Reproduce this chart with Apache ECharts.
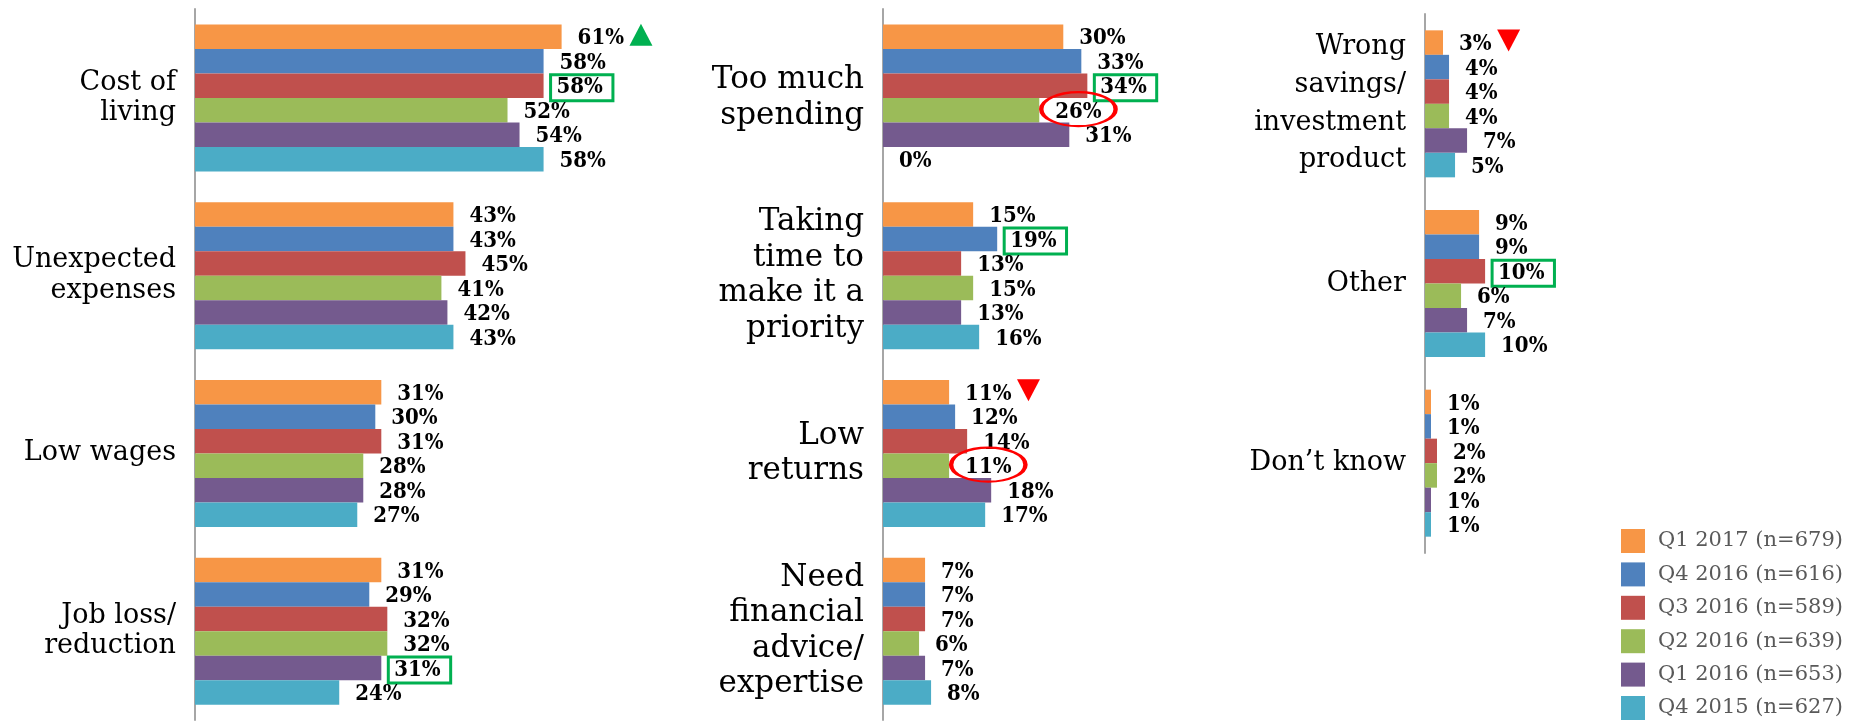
<!DOCTYPE html>
<html>
<head>
<meta charset="utf-8">
<script src="https://cdn.jsdelivr.net/npm/echarts@6/dist/echarts.min.js"></script>
<style>
  html, body { margin: 0; padding: 0; background: #ffffff; }
  #chart { width: 1863px; height: 724px; }
</style>
</head>
<body>
<div id="chart"></div>
<script>
// Survey waves (one bar series each)
const seriesNames = ['Q1 2017 (n=679)', 'Q4 2016 (n=616)', 'Q3 2016 (n=589)', 'Q2 2016 (n=639)', 'Q1 2016 (n=653)', 'Q4 2015 (n=627)'];
const seriesColors = ['#F79646', '#4F81BD', '#C0504D', '#9BBB59', '#745A8E', '#4BACC6'];

// Reasons, split over three columns
const leftCategories = ['Cost of\nliving', 'Unexpected\nexpenses', 'Low wages', 'Job loss/\nreduction'];
const middleCategories = ['Too much\nspending', 'Taking\ntime to\nmake it a\npriority', 'Low\nreturns', 'Need\nfinancial\nadvice/\nexpertise'];
const rightCategories = ['Wrong\nsavings/\ninvestment\nproduct', 'Other', 'Don’t know'];

// Percent of respondents, in the order left + middle + right categories
const q1_2017 = [61, 43, 31, 31, 30, 15, 11, 7, 3, 9, 1];
const q4_2016 = [58, 43, 30, 29, 33, 19, 12, 7, 4, 9, 1];
const q3_2016 = [58, 45, 31, 32, 34, 13, 14, 7, 4, 10, 2];
const q2_2016 = [52, 41, 28, 32, 26, 15, 11, 6, 4, 6, 2];
const q1_2016 = [54, 42, 28, 31, 31, 13, 18, 7, 7, 7, 1];
const q4_2015 = [58, 43, 27, 24, 0, 16, 17, 8, 5, 10, 1];
const seriesValues = [q1_2017, q4_2016, q3_2016, q2_2016, q1_2016, q4_2015];

// Call-outs: [series index, category index]
const boxedLabels = [[2, 0], [4, 3], [2, 4], [1, 5], [2, 9]];
const circledLabels = [[3, 4], [3, 6]];
const trendUp = [[0, 0]];
const trendDown = [[0, 6], [0, 8]];

const serifFont = 'DejaVu Serif';
const valueFont = '"DejaVu Serif Condensed", "DejaVu Serif"';
const valueFontSize = 22;
const labelGap = 16;

const measureCtx = document.createElement('canvas').getContext('2d');
function textWidth(str) {
  measureCtx.font = 'bold ' + valueFontSize + 'px ' + valueFont;
  return measureCtx.measureText(str).width;
}
function has(list, s, c) {
  return list.some(function (e) { return e[0] === s && e[1] === c; });
}

const xMax = 70;
const plotWidth = 420.7;
const panels = [
  { cats: leftCategories, start: 0, left: 195, top: 9, height: 711, fontSize: 27, lineHeight: 30.5 },
  { cats: middleCategories, start: 4, left: 883, top: 9, height: 711, fontSize: 31, lineHeight: 35.5 },
  { cats: rightCategories, start: 8, left: 1425, top: 14, height: 539, fontSize: 27, lineHeight: 37.7 }
];

const grids = [], xAxes = [], yAxes = [], series = [];

panels.forEach(function (p, pi) {
  grids.push({ left: p.left, top: p.top, width: plotWidth, height: p.height, containLabel: false });
  xAxes.push({ type: 'value', gridIndex: pi, min: 0, max: xMax, show: false });
  yAxes.push({
    type: 'category', gridIndex: pi, inverse: true, data: p.cats,
    axisLine: { show: true, lineStyle: { color: '#A6A6A6', width: 2 } },
    axisTick: { show: false },
    splitLine: { show: false },
    axisLabel: {
      color: '#000000', fontFamily: serifFont, fontSize: p.fontSize,
      lineHeight: p.lineHeight, margin: 19, align: 'right'
    }
  });

  seriesNames.forEach(function (name, si) {
    const vals = seriesValues[si].slice(p.start, p.start + p.cats.length);
    const data = vals.map(function (v, k) {
      const c = p.start + k;
      if (has(boxedLabels, si, c)) {
        return {
          value: v,
          label: {
            distance: labelGap - 9,
            borderColor: '#00B050', borderWidth: 3,
            padding: [3, 10, 1, 6]
          }
        };
      }
      return v;
    });

    const marks = [];
    vals.forEach(function (v, k) {
      const c = p.start + k;
      const w = textWidth(v + '%');
      if (has(circledLabels, si, c)) {
        marks.push({
          coord: [v, k], symbol: 'circle', symbolSize: [w + 28, 34],
          symbolOffset: [labelGap + w / 2, -1],
          itemStyle: { color: 'rgba(0,0,0,0)', borderColor: '#FF0000', borderWidth: 3 }
        });
      }
      if (has(trendUp, si, c) || has(trendDown, si, c)) {
        const up = has(trendUp, si, c);
        marks.push({
          coord: [v, k], symbol: 'triangle', symbolSize: [23, 22],
          symbolRotate: up ? 0 : 180,
          symbolOffset: [labelGap + w + 17, -2],
          itemStyle: { color: up ? '#00B050' : '#FF0000' }
        });
      }
    });

    series.push({
      type: 'bar', name: name, xAxisIndex: pi, yAxisIndex: pi,
      data: data, barWidth: 24.5, barGap: '0%',
      itemStyle: { color: seriesColors[si] },
      label: {
        show: true, position: 'right', distance: labelGap, offset: [0, 2],
        formatter: '{c}%', color: '#000000',
        fontFamily: valueFont, fontWeight: 'bold', fontSize: valueFontSize
      },
      markPoint: marks.length ? { silent: true, label: { show: false }, data: marks } : undefined
    });
  });
});

const chart = echarts.init(document.getElementById('chart'), null, { renderer: 'canvas' });
chart.setOption({
  backgroundColor: '#ffffff',
  animation: false,
  color: seriesColors,
  grid: grids,
  xAxis: xAxes,
  yAxis: yAxes,
  legend: {
    orient: 'vertical', left: 1621, top: 529, padding: 0,
    itemWidth: 24, itemHeight: 24, itemGap: 9.4, icon: 'rect',
    data: seriesNames,
    textStyle: { fontFamily: serifFont, fontSize: 21, color: '#595959', padding: [0, 0, 0, 8] }
  },
  series: series
});
</script>
</body>
</html>
